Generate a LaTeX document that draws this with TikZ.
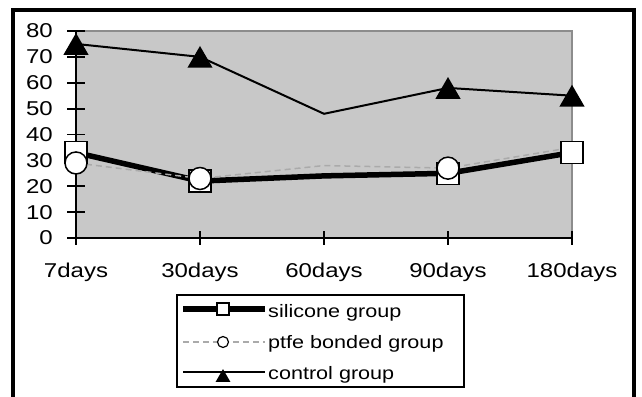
\documentclass[tikz,border=0pt]{standalone}
\usepackage{fontspec}
\setmainfont{Liberation Sans}
\usetikzlibrary{shapes.geometric}
\definecolor{plotgray}{RGB}{200,200,200}
\definecolor{edgegray}{RGB}{140,140,140}
\definecolor{dashgray}{RGB}{170,170,170}
\newcommand{\widetxt}[1]{\scalebox{1.2}[1]{#1}}
\begin{document}
\begin{tikzpicture}[x=1pt,y=-1pt,
  axislbl/.style={font=\fontsize{20}{24}\selectfont, inner sep=0pt},
  leglbl/.style={font=\fontsize{18}{22}\selectfont, inner sep=0pt, anchor=base west},
  sqmark/.style={draw=black, line width=1.5pt, fill=white, rectangle, minimum size=22pt, inner sep=0pt},
  cimark/.style={draw=black, line width=1.5pt, fill=white, circle, minimum size=22pt, inner sep=0pt},
  trimark/.style={fill=black, regular polygon, regular polygon sides=3, minimum size=29pt, inner sep=0pt, yshift=-3.6pt},
  sqleg/.style={sqmark, minimum size=12pt, line width=1.2pt},
  cileg/.style={cimark, minimum size=11pt, line width=1.2pt},
  trileg/.style={trimark, minimum size=17pt, yshift=-2pt},
  siline/.style={line width=5.5pt, line join=round},
  ptline/.style={draw=dashgray, line width=1.5pt, dash pattern=on 6pt off 4pt},
  coline/.style={line width=2pt, line join=round},
  axisline/.style={line width=2pt},
]
\useasboundingbox (0,0) rectangle (642,396);
% outer frame (bottom edge outside the picture)
\begin{scope}
\clip (0,0) rectangle (642,396);
\draw[line width=4pt] (13,410) -- (13,10) -- (634,10) -- (634,410);
\end{scope}
% plot area
\fill[plotgray] (76,31) rectangle (572,238);
\draw[edgegray, line width=1.5pt] (76,31) -- (572,31) -- (572,238);
% axes
\draw[axisline] (76,31) -- (76,238) -- (572,238);
\foreach \v in {0,10,...,80} {
  \draw[line width=1.8pt] (67,{238-2.5875*\v}) -- (85,{238-2.5875*\v});
  \node[axislbl, anchor=east] (y\v) at (53,{238-2.5875*\v}) {\widetxt{\v}};
}
\foreach \i/\t in {0/7days,1/30days,2/60days,3/90days,4/180days} {
  \draw[line width=1.8pt] ({76+124*\i},231) -- ({76+124*\i},245);
  \node[axislbl, anchor=base] (x\i) at ({76+124*\i},277) {\widetxt{\t}};
}
% data coordinates
\foreach \i/\s/\p/\c in {0/33/29/75, 1/22/23/70, 2/24/28/48, 3/25/27/58, 4/33/35/55} {
  \coordinate (s\i) at ({76+124*\i},{238-2.5875*\s});
  \coordinate (p\i) at ({76+124*\i},{238-2.5875*\p});
  \coordinate (c\i) at ({76+124*\i},{238-2.5875*\c});
}
% lines
\draw[siline] (s0) -- (s1) -- (s2) -- (s3) -- (s4);
\draw[ptline] (p0) -- (p1) -- (p2) -- (p3) -- (p4);
\draw[coline] (c0) -- (c1) -- (c2) -- (c3) -- (c4);
% markers
\foreach \i in {0,1,3,4} { \node[sqmark] (ms\i) at (s\i) {}; }
\foreach \i in {0,1,3} { \node[cimark] (mp\i) at (p\i) {}; }
\foreach \i in {0,1,3,4} { \node[trimark] (mc\i) at (c\i) {}; }
% legend
\draw[line width=2pt] (177,295) rectangle (464,387);
\coordinate (la1) at (183,309); \coordinate (lb1) at (265,309);
\coordinate (la2) at (183,342); \coordinate (lb2) at (265,342);
\coordinate (la3) at (183,372); \coordinate (lb3) at (265,372);
\draw[siline] (la1) -- (lb1);
\node[sqleg] (lm1) at (223,309) {};
\draw[ptline] (la2) -- (lb2);
\node[cileg] (lm2) at (223,342) {};
\draw[coline] (la3) -- (lb3);
\node[trileg] (lm3) at (223,372) {};
\node[leglbl] (lt1) at (268,317) {\widetxt{silicone group}};
\node[leglbl] (lt2) at (268,348) {\widetxt{ptfe bonded group}};
\node[leglbl] (lt3) at (268,379) {\widetxt{control group}};
\end{tikzpicture}
\end{document}
